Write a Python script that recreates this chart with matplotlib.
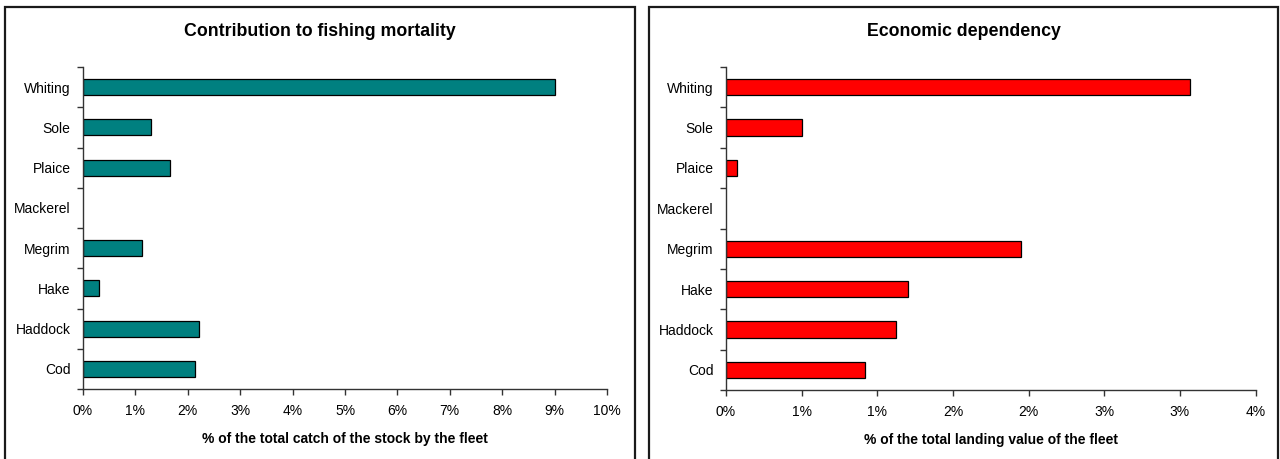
import numpy as np
import matplotlib
matplotlib.use("Agg")
import matplotlib.pyplot as plt
from matplotlib.patches import Rectangle

plt.rcParams['font.family'] = ['Liberation Sans Narrow', 'Liberation Sans', 'DejaVu Sans']

species = ['Cod', 'Haddock', 'Hake', 'Megrim', 'Mackerel', 'Plaice', 'Sole', 'Whiting']
mortality = [2.14, 2.22, 0.31, 1.12, 0.0, 1.66, 1.30, 9.00]
dependency = [0.92, 1.125, 1.205, 1.95, 0.0, 0.075, 0.50, 3.07]

left_ticks = [0, 1, 2, 3, 4, 5, 6, 7, 8, 9, 10]
left_tick_labels = ['0%', '1%', '2%', '3%', '4%', '5%', '6%', '7%', '8%', '9%', '10%']
right_ticks = [0, 0.5, 1.0, 1.5, 2.0, 2.5, 3.0, 3.5]
right_tick_labels = ['0%', '1%', '1%', '2%', '2%', '3%', '3%', '4%']

fig = plt.figure(figsize=(12.8, 4.59), dpi=100)

# panel frames
fig.patches.append(Rectangle((5 / 1280, -0.05), 630 / 1280, 1.05 - 7 / 459,
                             transform=fig.transFigure, fill=False,
                             edgecolor='#1a1a1a', linewidth=1.6))
fig.patches.append(Rectangle((649 / 1280, -0.05), 629 / 1280, 1.05 - 7 / 459,
                             transform=fig.transFigure, fill=False,
                             edgecolor='#1a1a1a', linewidth=1.6))

ax1 = fig.add_axes([83 / 1280, 1 - 389 / 459, 524 / 1280, 322 / 459])
ax2 = fig.add_axes([726 / 1280, 1 - 390 / 459, 529.5 / 1280, 323 / 459])

y = np.arange(len(species))


def style(ax, vals, color, ticks, labels, xlabel):
    lw = [0.9 if v > 0 else 0 for v in vals]
    ax.barh(y, vals, height=0.4, color=color, edgecolor='black', linewidth=lw)
    ax.set_ylim(-0.5, len(species) - 0.5)
    ax.set_xlim(ticks[0], ticks[-1])
    ax.set_xticks(ticks)
    ax.set_xticklabels(labels, fontsize=10)
    ax.set_yticks(y)
    ax.set_yticklabels(species, fontsize=10)
    ax.set_yticks(np.arange(-0.5, len(species), 1), minor=True)
    ax.tick_params(axis='y', which='major', length=0, pad=9)
    ax.tick_params(axis='y', which='minor', length=4, color='#333333', width=1)
    ax.tick_params(axis='x', length=4, color='#333333', width=1, pad=7)
    for s in ['top', 'right']:
        ax.spines[s].set_visible(False)
    for s in ['left', 'bottom']:
        ax.spines[s].set_color('#333333')
        ax.spines[s].set_linewidth(1)
    ax.set_xlabel(xlabel, fontsize=10, fontweight='bold', labelpad=10)


style(ax1, mortality, '#008080', left_ticks, left_tick_labels,
      '% of the total catch of the stock by the fleet')
style(ax2, dependency, '#ff0000', right_ticks, right_tick_labels,
      '% of the total landing value of the fleet')

fig.text(320 / 1280, 1 - 32 / 459, 'Contribution to fishing mortality',
         ha='center', va='center', fontsize=12.8, fontweight='bold')
fig.text(964 / 1280, 1 - 32 / 459, 'Economic dependency',
         ha='center', va='center', fontsize=12.8, fontweight='bold')

fig.savefig('out.png', dpi=100)
